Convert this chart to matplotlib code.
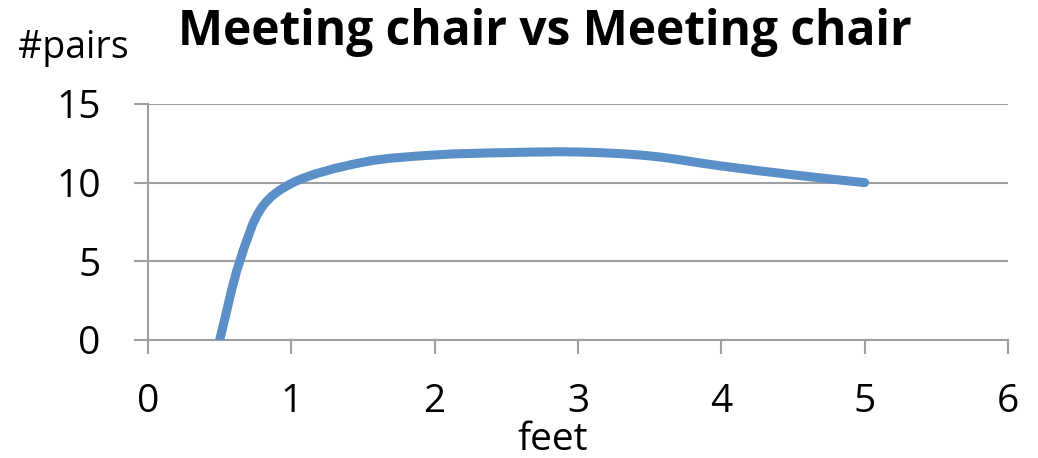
import numpy as np
import matplotlib
matplotlib.use("Agg")
import matplotlib.pyplot as plt
from matplotlib.path import Path
from matplotlib.patches import PathPatch

# distance between chairs (feet) and number of pairs
feet = [0.5, 0.64, 0.8, 1.0, 1.5, 2.0, 2.5, 3.0, 3.5, 4.0, 4.5, 5.0]
pairs = [0.0, 5.0, 8.5, 9.95, 11.3, 11.76, 11.91, 11.95, 11.7, 11.06, 10.5, 10.0]

x_ticks = [0, 1, 2, 3, 4, 5, 6]
y_ticks = [0, 5, 10, 15]

title = "Meeting chair vs Meeting chair"
x_label = "feet"
y_label = "#pairs"

line_color = "#5b8fc7"
grid_color = "#a0a0a0"

plt.rcParams["font.family"] = ["Open Sans", "DejaVu Sans"]

W, H = 1038, 458
fig = plt.figure(figsize=(W / 100, H / 100), dpi=100)
ax = fig.add_axes([148 / W, 1 - 340 / H, 860 / W, 236 / H])
ax.set_xlim(0, 6)
ax.set_ylim(0, 15)


def smooth_path(xs, ys, axes):
    """Centripetal Catmull-Rom curve through the points, built as a Bezier path."""
    fig.canvas.draw()
    data = np.column_stack([xs, ys]).astype(float)
    pts = axes.transData.transform(data)
    n = len(pts)
    ext = np.vstack([2 * pts[0] - pts[1], pts, 2 * pts[-1] - pts[-2]])
    verts = [pts[0]]
    codes = [Path.MOVETO]
    for i in range(n - 1):
        p0, p1, p2, p3 = ext[i], ext[i + 1], ext[i + 2], ext[i + 3]
        d01 = max(np.linalg.norm(p1 - p0) ** 0.5, 1e-9)
        d12 = max(np.linalg.norm(p2 - p1) ** 0.5, 1e-9)
        d23 = max(np.linalg.norm(p3 - p2) ** 0.5, 1e-9)
        m1 = (p1 - p0) / d01 - (p2 - p0) / (d01 + d12) + (p2 - p1) / d12
        m2 = (p2 - p1) / d12 - (p3 - p1) / (d12 + d23) + (p3 - p2) / d23
        c1 = p1 + m1 * d12 / 3.0
        c2 = p2 - m2 * d12 / 3.0
        verts += [c1, c2, p2]
        codes += [Path.CURVE4] * 3
    verts = axes.transData.inverted().transform(np.array(verts))
    return Path(verts, codes)


ax.add_patch(PathPatch(smooth_path(feet, pairs, ax), facecolor="none",
                       edgecolor=line_color, lw=6.5, capstyle="round",
                       joinstyle="round", zorder=3))

ax.set_xticks(x_ticks)
ax.set_yticks(y_ticks)

ax.yaxis.grid(True, color=grid_color, lw=1.5)
ax.set_axisbelow(True)
for side in ("top", "right"):
    ax.spines[side].set_visible(False)
for side in ("left", "bottom"):
    ax.spines[side].set_color(grid_color)
    ax.spines[side].set_linewidth(1.5)

ax.tick_params(axis="x", direction="out", length=10, width=1.5,
               color=grid_color, labelsize=28, pad=21)
ax.tick_params(axis="y", direction="out", length=10, width=1.5,
               color=grid_color, labelsize=28, pad=24)

fig.text(545 / W, 1 - 45 / H, title, ha="center", va="baseline",
         fontsize=34.5, fontweight="bold")
fig.text(73 / W, 1 - 58 / H, y_label, ha="center", va="baseline",
         fontsize=27)
fig.text(553 / W, 1 - 450 / H, x_label, ha="center", va="baseline",
         fontsize=28)

fig.savefig("out.png", dpi=100)
